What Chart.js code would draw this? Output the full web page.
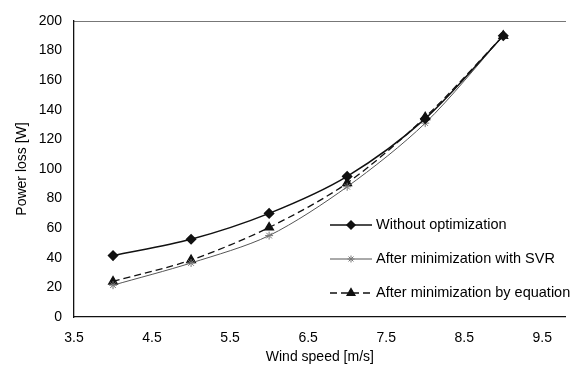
<!DOCTYPE html>
<html>
<head>
<meta charset="utf-8">
<script src="https://cdn.jsdelivr.net/npm/chart.js@4.4.1/dist/chart.umd.min.js"></script>
<style>
  html, body { margin: 0; padding: 0; background: #fff; }
  #wrap { width: 572px; height: 367px; }
</style>
</head>
<body>
<div id="wrap"><canvas id="lossChart" width="572" height="367"></canvas></div>
<script>
// wind speed [m/s]
const windSpeed = [4, 5, 6, 7, 8, 9];
// power loss [W]
const withoutOpt = [41.5, 52.5, 70, 95, 134, 190];
const withSVR = [21.5, 36.5, 55, 88, 131, 190];
const byEquation = [24, 38.5, 60.5, 90.5, 135, 190];

const xTicks = [3.5, 4.5, 5.5, 6.5, 7.5, 8.5, 9.5];
const yTicks = [0, 20, 40, 60, 80, 100, 120, 140, 160, 180, 200];

const FONT = 'Liberation Sans, Arial, sans-serif';

function toPoints(ys) {
    return windSpeed.map((x, i) => ({ x: x, y: ys[i] }));
}

// legend drawn inside the plot area, bottom right
const innerLegend = {
    id: 'innerLegend',
    afterDraw(chart) {
        const ctx = chart.ctx;
        const x0 = 330, x1 = 372, rowY = [225, 259, 293];
        ctx.save();
        chart.data.datasets.forEach((ds, i) => {
            const y = rowY[i];
            ctx.strokeStyle = ds.borderColor;
            ctx.lineWidth = ds.borderWidth;
            ctx.setLineDash(ds.borderDash || []);
            ctx.beginPath();
            ctx.moveTo(x0, y);
            ctx.lineTo(x1, y);
            ctx.stroke();
            ctx.setLineDash([]);
            ctx.fillStyle = ds.pointBackgroundColor;
            ctx.strokeStyle = ds.pointBorderColor;
            Chart.helpers.drawPoint(ctx, {
                pointStyle: ds.pointStyle,
                radius: ds.pointRadius - 0.5,
                borderWidth: 1
            }, (x0 + x1) / 2, y);
            ctx.fillStyle = '#000';
            ctx.font = '14.5px ' + FONT;
            ctx.textBaseline = 'middle';
            ctx.fillText(ds.label, x1 + 4, y);
        });
        ctx.restore();
    }
};

function initLossChart() {
    const ctx = document.getElementById('lossChart').getContext('2d');
    new Chart(ctx, {
        type: 'line',
        data: {
            datasets: [{
                label: 'Without optimization',
                data: toPoints(withoutOpt),
                borderColor: '#111',
                backgroundColor: '#111',
                borderWidth: 1.5,
                pointStyle: 'rectRot',
                pointRadius: 4.5,
                pointBackgroundColor: '#111',
                pointBorderColor: '#111',
                tension: 0.3
            }, {
                label: 'After minimization with SVR',
                data: toPoints(withSVR),
                borderColor: '#555',
                backgroundColor: '#777',
                borderWidth: 1,
                pointStyle: 'star',
                pointRadius: 4,
                pointBackgroundColor: '#777',
                pointBorderColor: '#777',
                tension: 0.3
            }, {
                label: 'After minimization by equation',
                data: toPoints(byEquation),
                borderColor: '#111',
                backgroundColor: '#111',
                borderWidth: 1.3,
                borderDash: [7, 4],
                pointStyle: 'triangle',
                pointRadius: 5,
                pointBackgroundColor: '#111',
                pointBorderColor: '#111',
                tension: 0.3
            }]
        },
        options: {
            responsive: false,
            animation: false,
            layout: { padding: { top: 21, right: 0, left: 0, bottom: 0 } },
            plugins: {
                legend: { display: false },
                tooltip: { enabled: false }
            },
            scales: {
                x: {
                    type: 'linear',
                    min: 3.5,
                    max: 9.8,
                    afterBuildTicks: axis => { axis.ticks = xTicks.map(v => ({ value: v })); },
                    afterFit: axis => { axis.height = 50; },
                    grid: { display: false, drawTicks: false },
                    border: { display: true, color: '#111', width: 1.3 },
                    ticks: {
                        padding: 13,
                        color: '#000',
                        font: { family: FONT, size: 14 },
                        callback: v => v.toFixed(1)
                    },
                    title: {
                        display: true,
                        text: 'Wind speed [m/s]',
                        color: '#000',
                        font: { family: FONT, size: 14 },
                        padding: { top: 0, bottom: 1 }
                    }
                },
                xTop: {
                    type: 'linear',
                    position: 'top',
                    min: 3.5,
                    max: 9.8,
                    afterFit: axis => { axis.height = 0; },
                    grid: { display: false, drawTicks: false },
                    ticks: { display: false },
                    border: { display: true, color: '#777', width: 1, dash: [2, 3] }
                },
                y: {
                    min: 0,
                    max: 200,
                    afterBuildTicks: axis => { axis.ticks = yTicks.map(v => ({ value: v })); },
                    afterFit: axis => { axis.width = 74; },
                    grid: { display: false, drawTicks: false },
                    border: { display: true, color: '#111', width: 1.3 },
                    ticks: {
                        padding: 12,
                        color: '#000',
                        font: { family: FONT, size: 14 }
                    },
                    title: {
                        display: true,
                        text: 'Power loss [W]',
                        color: '#000',
                        font: { family: FONT, size: 14 },
                        padding: { top: 14, bottom: 0 }
                    }
                }
            }
        },
        plugins: [innerLegend]
    });
}

document.addEventListener('DOMContentLoaded', () => {
    initLossChart();
});
</script>
</body>
</html>
